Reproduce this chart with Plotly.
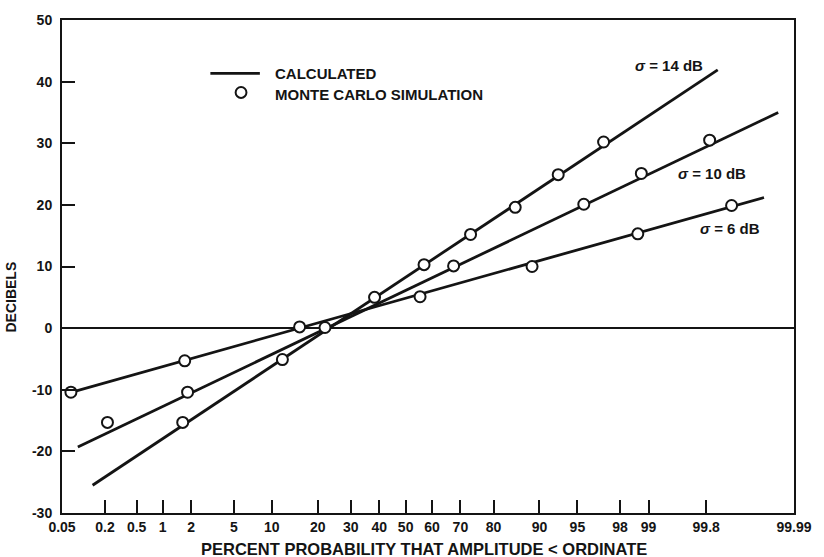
from statistics import NormalDist
import plotly.graph_objects as go

# ---------------- data (percent probability, decibels) ----------------
sigma_labels = ["<i>σ</i> = 14 dB", "<i>σ</i> = 10 dB", "<i>σ</i> = 6 dB"]

# calculated lines (end points, straight on probability paper)
calc14_pct = [0.136, 99.86]
calc14_db = [-25.5, 41.9]
calc10_pct = [0.0848, 99.982]
calc10_db = [-19.3, 35.0]
calc6_pct = [0.064, 99.970]
calc6_db = [-10.5, 21.2]

# Monte Carlo simulation points
mc14_pct = [1.64, 11.9, 22.0, 38.3, 57.0, 73.3, 85.3, 92.8, 97.1]
mc14_db = [-15.3, -5.1, 0.1, 5.0, 10.3, 15.2, 19.6, 24.9, 30.2]
mc10_pct = [0.215, 1.84, 67.7, 95.6, 98.8, 99.82]
mc10_db = [-15.3, -10.4, 10.1, 20.1, 25.1, 30.5]
mc6_pct = [0.0675, 1.72, 15.5, 55.5, 88.7, 98.69, 99.910]
mc6_db = [-10.4, -5.3, 0.2, 5.1, 10.0, 15.3, 19.9]

# label anchor (percent, dB) = left end of each sigma label
label_pct = [98.52, 99.52, 99.745]
label_db = [42.6, 25.1, 16.1]

x_tick_pct = [0.05, 0.2, 0.5, 1, 2, 5, 10, 20, 30, 40, 50, 60, 70, 80, 90, 95, 98, 99, 99.8, 99.99]
x_tick_text = ["0.05", "0.2", "0.5", "1", "2", "5", "10", "20", "30", "40", "50", "60", "70", "80",
               "90", "95", "98", "99", "99.8", "99.99"]
y_tick_vals = [-30, -20, -10, 0, 10, 20, 30, 40, 50]
y_tick_text = ["-30", "-20", "-10", "0", "10", "20", "30", "40", "50"]

legend_names = ["CALCULATED", "MONTE CARLO SIMULATION"]

# ---------------- probability scale ----------------
nd = NormalDist()


def z(p_list):
    return [nd.inv_cdf(p / 100.0) for p in p_list]


INK = "#141414"
FONT = "Liberation Sans, Arial, sans-serif"

fig = go.Figure()

calc = [(calc14_pct, calc14_db), (calc10_pct, calc10_db), (calc6_pct, calc6_db)]
for px_, db_ in calc:
    fig.add_trace(go.Scatter(
        x=z(px_), y=db_, mode="lines",
        line=dict(color=INK, width=2.8),
        name=legend_names[0], showlegend=False, hoverinfo="skip"))

mc = [(mc14_pct, mc14_db), (mc10_pct, mc10_db), (mc6_pct, mc6_db)]
for px_, db_ in mc:
    fig.add_trace(go.Scatter(
        x=z(px_), y=db_, mode="markers",
        marker=dict(symbol="circle", size=11, color="white",
                    line=dict(color=INK, width=2)),
        name=legend_names[1], showlegend=False, hoverinfo="skip"))

for txt, lp, ld in zip(sigma_labels, label_pct, label_db):
    fig.add_annotation(x=nd.inv_cdf(lp / 100.0), y=ld, text="<b>" + txt + "</b>", showarrow=False,
                       xanchor="left", yanchor="middle",
                       font=dict(family=FONT, size=15, color=INK))

# hand-drawn style legend
fig.add_shape(type="line", xref="paper", yref="paper", x0=0.2027, x1=0.2703, y0=0.8916, y1=0.8916,
              line=dict(color=INK, width=2.8))
fig.add_shape(type="circle", xref="paper", yref="paper", x0=0.2446 - 0.0074, x1=0.2446 + 0.0074,
              y0=0.853 - 0.011, y1=0.853 + 0.011, line=dict(color=INK, width=2), fillcolor="white")
fig.add_annotation(xref="paper", yref="paper", x=0.2878, y=0.8916, text="<b>" + legend_names[0] + "</b>",
                   showarrow=False, xanchor="left", yanchor="middle",
                   font=dict(family=FONT, size=15, color=INK))
fig.add_annotation(xref="paper", yref="paper", x=0.2878, y=0.848, text="<b>" + legend_names[1] + "</b>",
                   showarrow=False, xanchor="left", yanchor="middle",
                   font=dict(family=FONT, size=15, color=INK))

fig.add_annotation(xref="paper", yref="paper", x=-0.069, y=0.438, text="<b>DECIBELS</b>",
                   textangle=-90, showarrow=False, xanchor="center", yanchor="middle",
                   font=dict(family=FONT, size=14, color=INK))
fig.add_annotation(xref="paper", yref="paper", x=0.495, y=-0.074,
                   text="<b>PERCENT PROBABILITY THAT AMPLITUDE &lt; ORDINATE</b>",
                   showarrow=False, yanchor="middle",
                   font=dict(family=FONT, size=16.5, color=INK))

fig.update_xaxes(
    range=[nd.inv_cdf(0.0005), nd.inv_cdf(0.9999)],
    tickvals=z(x_tick_pct), ticktext=x_tick_text,
    ticks="inside", ticklen=13, tickwidth=2, tickcolor=INK,
    showline=True, linecolor=INK, linewidth=2, mirror=True,
    showgrid=False, zeroline=False,
    tickfont=dict(family=FONT, size=14, color=INK, weight="bold"))
fig.update_yaxes(
    range=[-30, 50],
    tickvals=y_tick_vals, ticktext=y_tick_text,
    ticks="inside", ticklen=13, tickwidth=2, tickcolor=INK,
    showline=True, linecolor=INK, linewidth=2, mirror=True,
    showgrid=False, zeroline=True, zerolinecolor=INK, zerolinewidth=1.5,
    ticklabelstandoff=5,
    tickfont=dict(family=FONT, size=14, color=INK, weight="bold"))

fig.update_layout(
    width=824, height=557,
    margin=dict(l=62, r=22, t=15, b=44),
    paper_bgcolor="white", plot_bgcolor="white",
    showlegend=False,
)

fig.write_html("out.html")
